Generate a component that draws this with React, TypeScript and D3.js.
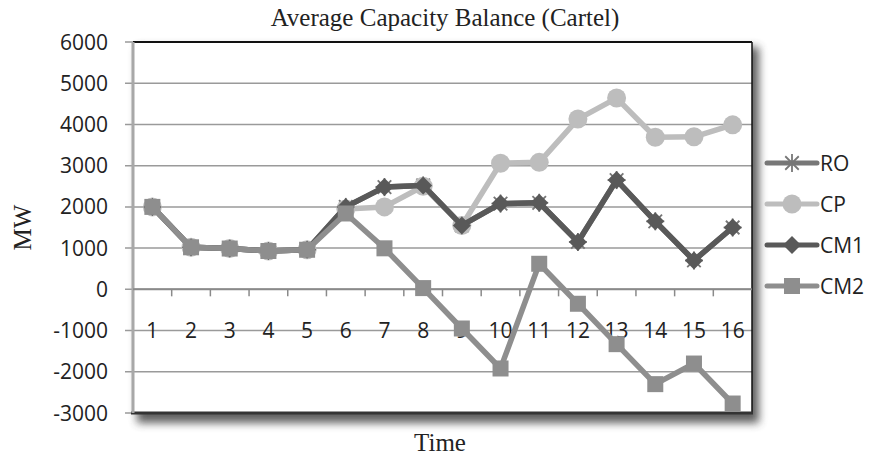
import * as d3 from 'd3';

const times = ['1', '2', '3', '4', '5', '6', '7', '8', '9', '10', '11', '12', '13', '14', '15', '16'];
const yTicks = [6000, 5000, 4000, 3000, 2000, 1000, 0, -1000, -2000, -3000];

const ro = [2000, 1020, 990, 930, 960, 2000, 2480, 2520, 1550, 2080, 2100, 1150, 2650, 1650, 700, 1500];
const cp = [2000, 1020, 990, 930, 960, 1950, 2000, 2500, 1550, 3060, 3080, 4130, 4640, 3690, 3700, 3990];
const cm1 = [2000, 1020, 990, 930, 960, 2000, 2480, 2520, 1550, 2080, 2100, 1150, 2650, 1650, 700, 1500];
const cm2 = [2000, 1020, 990, 930, 960, 1840, 995, 30, -950, -1920, 620, -350, -1330, -2300, -1800, -2770];

type Marker = 'star' | 'circle' | 'diamond' | 'square';
const series: { name: string; values: number[]; color: string; marker: Marker }[] = [
  { name: 'RO', values: ro, color: '#777777', marker: 'star' },
  { name: 'CP', values: cp, color: '#bdbdbd', marker: 'circle' },
  { name: 'CM1', values: cm1, color: '#595959', marker: 'diamond' },
  { name: 'CM2', values: cm2, color: '#8e8e8e', marker: 'square' },
];

const W = 877;
const H = 457;
const plot = { left: 133, right: 752, top: 42, bottom: 413 };

function MarkerShape({ type, x, y, color }: { type: Marker; x: number; y: number; color: string }) {
  if (type === 'circle') return <circle cx={x} cy={y} r={9.5} fill={color} />;
  if (type === 'square') return <rect x={x - 8} y={y - 8} width={16} height={16} fill={color} />;
  if (type === 'diamond') {
    const r = 9;
    return <path d={`M${x},${y - r}L${x + r},${y}L${x},${y + r}L${x - r},${y}Z`} fill={color} />;
  }
  const r = 9;
  return (
    <g stroke={color} strokeWidth={1.8}>
      <line x1={x - r} y1={y} x2={x + r} y2={y} />
      <line x1={x - r * 0.75} y1={y - r * 0.75} x2={x + r * 0.75} y2={y + r * 0.75} />
      <line x1={x - r * 0.75} y1={y + r * 0.75} x2={x + r * 0.75} y2={y - r * 0.75} />
      <line x1={x} y1={y - r} x2={x} y2={y + r} />
    </g>
  );
}

export default function App() {
  const x = d3.scaleBand<string>().domain(times).range([plot.left, plot.right]);
  const y = d3.scaleLinear().domain([-3000, 6000]).range([plot.bottom, plot.top]);
  const cx = (t: string) => (x(t) ?? 0) + x.bandwidth() / 2;
  const line = d3
    .line<number>()
    .x((_, i) => cx(times[i]))
    .y((d) => y(d));

  const sans = "'Open Sans', sans-serif";
  const serif = "'Liberation Serif', 'Times New Roman', serif";

  return (
    <svg width={W} height={H} style={{ position: 'absolute', left: 0, top: 0, background: '#fff' }}>
      <defs>
        <filter id="shadow" x="-5%" y="-5%" width="115%" height="120%">
          <feGaussianBlur stdDeviation="4" />
        </filter>
      </defs>

      <text x={445} y={26} textAnchor="middle" fontFamily={serif} fontSize={25} fill="#222">
        Average Capacity Balance (Cartel)
      </text>

      {/* plot area shadow */}
      <rect
        x={plot.left + 4}
        y={plot.top + 5}
        width={plot.right - plot.left + 3}
        height={plot.bottom - plot.top + 5}
        fill="#444"
        filter="url(#shadow)"
        opacity={0.85}
      />
      <rect x={plot.left} y={plot.top} width={plot.right - plot.left} height={plot.bottom - plot.top} fill="#fff" />

      {yTicks.map((t) => (
        <g key={t}>
          <line x1={plot.left - 8} x2={plot.right} y1={y(t)} y2={y(t)} stroke="#9a9a9a" strokeWidth={1.5} />
          <text x={108} y={y(t)} dy="0.36em" textAnchor="end" fontFamily={sans} fontSize={21} fill="#222">
            {t}
          </text>
        </g>
      ))}

      {/* borders */}
      <line x1={plot.left} x2={plot.right} y1={plot.top} y2={plot.top} stroke="#111" strokeWidth={2} />
      <line x1={plot.right} x2={plot.right} y1={plot.top} y2={plot.bottom} stroke="#111" strokeWidth={1.5} />
      <line x1={plot.left - 2} x2={plot.right + 1} y1={plot.bottom} y2={plot.bottom} stroke="#333" strokeWidth={3} />
      <line x1={plot.left} x2={plot.left} y1={plot.top} y2={plot.bottom} stroke="#a8a8a8" strokeWidth={3} />

      {/* category axis at zero */}
      <line x1={plot.left} x2={plot.right} y1={y(0)} y2={y(0)} stroke="#8a8a8a" strokeWidth={2} />
      {times.slice(1).map((t) => (
        <line key={t} x1={x(t)} x2={x(t)} y1={y(0)} y2={y(0) + 7} stroke="#8a8a8a" strokeWidth={1.5} />
      ))}
      {times.map((t) => (
        <text key={t} x={cx(t)} y={y(-1000)} dy="0.36em" textAnchor="middle" fontFamily={sans} fontSize={21} fill="#222">
          {t}
        </text>
      ))}

      {series.map((s) => (
        <g key={s.name}>
          <path d={line(s.values) ?? ''} fill="none" stroke={s.color} strokeWidth={5.5} strokeLinejoin="round" />
          {s.values.map((v, i) => (
            <MarkerShape key={i} type={s.marker} x={cx(times[i])} y={y(v)} color={s.color} />
          ))}
        </g>
      ))}

      {/* legend */}
      {series.map((s, i) => {
        const ly = 163 + i * 41;
        return (
          <g key={s.name}>
            <line x1={767} x2={817} y1={ly} y2={ly} stroke={s.color} strokeWidth={5} strokeLinecap="round" />
            <MarkerShape type={s.marker} x={792} y={ly} color={s.color} />
            <text x={820} y={ly} dy="0.36em" fontFamily={sans} fontSize={21} fill="#222">
              {s.name}
            </text>
          </g>
        );
      })}

      <text
        transform={`translate(31,${(plot.top + plot.bottom) / 2}) rotate(-90)`}
        textAnchor="middle"
        fontFamily={serif}
        fontSize={25}
        fill="#222"
      >
        MW
      </text>
      <text x={440} y={451} textAnchor="middle" fontFamily={serif} fontSize={25} fill="#222">
        Time
      </text>
    </svg>
  );
}
